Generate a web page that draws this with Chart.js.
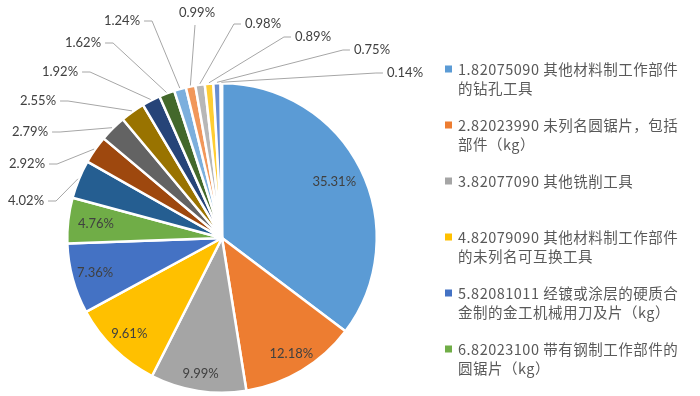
<!DOCTYPE html>
<html>
<head>
<meta charset="utf-8">
<script src="https://cdn.jsdelivr.net/npm/chart.js@4.4.1/dist/chart.umd.min.js"></script>
<style>
  html, body { margin: 0; padding: 0; background: #fff; }
  #wrap { width: 700px; height: 396px; }
</style>
</head>
<body>
<div id="wrap"><canvas id="pieChart" width="700" height="396"></canvas></div>
<script>
// categories (only the first six are readable in the legend)
const categories = [
    '1.82075090 其他材料制工作部件\n的钻孔工具',
    '2.82023990 未列名圆锯片，包括\n部件（kg）',
    '3.82077090 其他铣削工具',
    '4.82079090 其他材料制工作部件\n的未列名可互换工具',
    '5.82081011 经镀或涂层的硬质合\n金制的金工机械用刀及片（kg）',
    '6.82023100 带有钢制工作部件的\n圆锯片（kg）',
    '7', '8', '9', '10', '11', '12', '13', '14', '15', '16', '17', '18'
];
const shares = [35.31, 12.18, 9.99, 9.61, 7.36, 4.76, 4.02, 2.92, 2.79, 2.55, 1.92, 1.62, 1.24, 0.99, 0.98, 0.89, 0.75, 0.14];
const legendCount = 6;

const sliceColors = [
    '#5B9BD5', '#ED7D31', '#A5A5A5', '#FFC000', '#4472C4', '#70AD47',
    '#255E91', '#9E480E', '#636363', '#997300', '#264478', '#43682B',
    '#7CAFDD', '#F1975A', '#B7B7B7', '#FFCD33', '#698ED0', '#8CC168'
];

// label layout
const insideFactor = [0.81, 0.87, 0.89, 0.86, 0.85, 0.82];
const outsideLabels = [
    { x: 26, y: 201, side: 'left' },
    { x: 27, y: 164, side: 'left' },
    { x: 30, y: 132, side: 'left' },
    { x: 38, y: 101, side: 'left' },
    { x: 60, y: 72, side: 'left' },
    { x: 83, y: 43, side: 'left' },
    { x: 122, y: 21, side: 'left' },
    { x: 197, y: 13, side: 'below' },
    { x: 263, y: 24, side: 'right' },
    { x: 313, y: 37, side: 'right' },
    { x: 372, y: 50, side: 'right' },
    { x: 405, y: 73, side: 'right' }
];

const labelFont = '13px Lato, "Open Sans", sans-serif';

const sliceLabels = {
    id: 'sliceLabels',
    afterDatasetsDraw(chart) {
        const ctx = chart.ctx;
        const arcs = chart.getDatasetMeta(0).data;
        ctx.save();
        ctx.font = labelFont;
        ctx.textAlign = 'center';
        ctx.textBaseline = 'middle';
        arcs.forEach((arc, i) => {
            const p = arc.getProps(['x', 'y', 'startAngle', 'endAngle', 'outerRadius'], true);
            const mid = (p.startAngle + p.endAngle) / 2;
            const text = shares[i].toFixed(2) + '%';
            if (i < insideFactor.length) {
                const r = p.outerRadius * insideFactor[i];
                ctx.fillStyle = '#404040';
                ctx.fillText(text, p.x + Math.cos(mid) * r, p.y + Math.sin(mid) * r);
                return;
            }
            const lab = outsideLabels[i - insideFactor.length];
            const ex = p.x + Math.cos(mid) * (p.outerRadius + 1);
            const ey = p.y + Math.sin(mid) * (p.outerRadius + 1);
            const w = ctx.measureText(text).width;
            let sx, sy, kx, ky;
            if (lab.side === 'left') {
                sx = lab.x + w / 2 + 4; sy = lab.y;
                kx = sx + 8; ky = sy;
            } else if (lab.side === 'right') {
                sx = lab.x - w / 2 - 4; sy = lab.y;
                kx = sx - 7; ky = sy;
            } else {
                sx = lab.x - 2; sy = lab.y + 12;
                kx = sx; ky = sy;
            }
            ctx.strokeStyle = '#A6A6A6';
            ctx.lineWidth = 1;
            ctx.beginPath();
            ctx.moveTo(sx, sy);
            ctx.lineTo(kx, ky);
            ctx.lineTo(ex, ey);
            ctx.stroke();
            ctx.fillStyle = '#404040';
            ctx.fillText(text, lab.x, lab.y);
        });
        ctx.restore();
    }
};

const sideLegend = {
    id: 'sideLegend',
    afterDraw(chart) {
        const ctx = chart.ctx;
        ctx.save();
        ctx.font = '14.5px "Noto Sans CJK SC", sans-serif';
        ctx.letterSpacing = '0.5px';
        ctx.textBaseline = 'middle';
        ctx.textAlign = 'left';
        for (let i = 0; i < legendCount; i++) {
            const y0 = 69 + i * 56;
            ctx.fillStyle = sliceColors[i];
            ctx.fillRect(445, y0 - 3.5, 7, 7);
            ctx.fillStyle = '#595959';
            categories[i].split('\n').forEach((line, j) => {
                ctx.fillText(line, 458, y0 + j * 19);
            });
        }
        ctx.restore();
    }
};

new Chart(document.getElementById('pieChart'), {
    type: 'pie',
    data: {
        labels: categories,
        datasets: [{
            data: shares,
            backgroundColor: sliceColors,
            borderColor: '#FFFFFF',
            borderWidth: 2.5
        }]
    },
    options: {
        responsive: false,
        animation: false,
        layout: { padding: { left: 66, right: 322, top: 82, bottom: 2 } },
        plugins: {
            legend: { display: false },
            tooltip: { enabled: false }
        }
    },
    plugins: [sliceLabels, sideLegend]
});
</script>
</body>
</html>
